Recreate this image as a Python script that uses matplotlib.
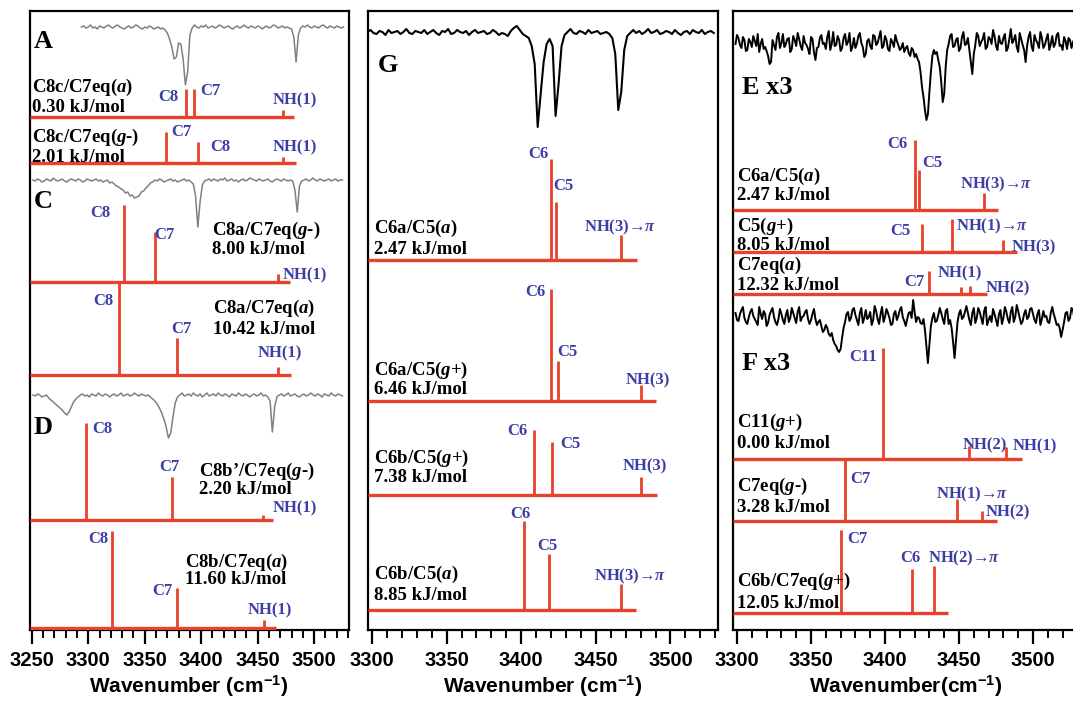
import matplotlib
matplotlib.use("Agg")
import matplotlib.pyplot as plt
from matplotlib.ticker import MultipleLocator
import numpy as np

# IR/UV double resonance traces, depletion depth on an even wavenumber grid
trace_a_span = (3294, 3526)
trace_a = [0, -1, 1, 0, -2, 1, 0, 2, -1, 0,
           1, -1, -2, 0, 1, -1, -2, 0, 1, 2,
           0, -1, 1, 0, -2, -1, 1, 2, 0, 1,
           -1, 0, 2, 1, 0, 2, 1, 3, 6, 12,
           20, 32, 30, 16, 17, 32, 58, 45, 8, 1,
           -2, 0, 1, -1, 0, -2, 1, 0, -1, 1,
           0, -2, -1, 1, 0, -1, 1, 2, 0, -1,
           1, 0, -2, 0, 1, -1, 0, 1, -1, 0,
           2, 0, -1, 1, 0, -2, -1, 1, 0, -1,
           1, 0, 1, 2, 10, 35, 8, 1, -1, 0,
           -2, 0, 1, -1, 0, 1, -1, -2, 0, 1,
           -1, 0, 1, -1, 0, 1, 0]

trace_c_span = (3251, 3525)
trace_c = [0, 1, -1, 0, 2, 1, -1, 0, 1, -2,
           0, 1, 0, -1, 1, 2, 0, -1, 0, 1,
           -1, 0, 2, 1, -1, 0, 1, 0, -1, 1,
           0, 2, 1, 0, 3, 2, 4, 6, 7, 9,
           10, 13, 12, 16, 15, 18, 17, 16, 12, 11,
           8, 6, 3, 2, 0, 1, -1, 0, 2, 1,
           0, -1, 1, 0, 2, 1, 0, -1, 1, 0,
           2, 4, 16, 47, 22, 5, 1, 0, -1, 1,
           -1, 0, 1, -1, 0, -2, 1, 0, -1, 1,
           0, 2, 0, -1, 1, 0, -2, -1, 0, 1,
           -1, 0, 1, 0, -1, 1, 2, 0, -1, 0,
           1, -1, 0, 1, 0, 1, 10, 32, 6, 1,
           0, -1, 1, 0, -2, 0, 1, -1, 0, 1,
           0, -1, 1, 0, -1, 1, 0, 0]

trace_d_span = (3251, 3525)
trace_d = [0, 1, -1, 0, 2, 1, 0, 3, 5, 7,
           9, 11, 13, 15, 18, 20, 17, 12, 7, 4,
           2, 0, -1, 1, 0, 2, -1, 0, 1, -2,
           0, 1, -1, 0, 2, 0, -1, 1, 0, -2,
           1, 0, -1, 1, 0, -2, 0, 1, -1, 0,
           1, 0, 2, 4, 6, 9, 13, 18, 24, 32,
           43, 38, 22, 8, 2, 0, -2, 1, 0, -1,
           1, -2, 0, 1, -1, 2, 0, -2, 1, 0,
           -1, 1, -2, 0, 1, -1, 0, 2, -1, 0,
           1, -2, 0, 1, -1, 0, 2, 0, -1, 1,
           0, -2, 1, 0, 2, 6, 37, 12, 2, 0,
           -1, 1, 0, -2, 1, 0, -1, 1, 2, 0,
           -1, 1, 0, -2, 0, 1, -1, 0, 2, -1,
           0, 1, -2, 0, 1, -1, 0, 1]

trace_g_span = (3297, 3529)
trace_g = [0, -2, 1, 2, -1, 0, 3, -2, 1, 0,
           -1, 2, 0, -3, 1, 2, -1, 0, 1, -2,
           2, 0, -2, 1, 3, -1, 0, -3, 2, 1,
           -2, 0, 1, -1, 3, 0, -2, 1, 0, -1,
           2, 1, -2, 0, 3, 1, 2, 4, -1, -4,
           -6, -2, 2, 4, 6, 14, 32, 95, 62, 30,
           12, 7, 14, 84, 52, 14, 3, 0, -3, 1,
           2, -1, 0, 2, -2, 1, 0, -1, 2, 1,
           0, 2, 6, 22, 78, 60, 18, 4, 1, -2,
           1, -1, 2, 0, -3, 1, 0, -2, 2, 1,
           -1, 0, 2, -2, 1, 3, 0, -1, 2, -2,
           0, 1, -2, 2, 0, -1, 1]

trace_e_span = (3299, 3529)
trace_e = [2, -7, -4, 3, 6, -5, -2, 9, 8, -3, 0, 5, -6, -1, 4, -8, 10, 2, -3, 7,
           5, 9, 14, 22, 20, -2, 3, 8, -5, -9, 6, 1, -8, 5, 2, -3, -4, 10, 7, -6,
           -2, 4, -9, -3, 4, 8, -6, 1, 3, 7, 12, -5, -3, 10, 18, 6, 5, -4, -7, 2,
           1, 7, -5, -11, 8, 2, -10, 4, 3, -6, -2, 9, 6, -4, -8, 3, 0, -9, 9, 5,
           -4, 6, 2, -6, -9, 1, 5, 15, 12, -1, -3, 4, 7, -7, -6, 3, 1, -5, -11, 6,
           4, -6, -2, 7, 9, -3, 0, 5, -7, -1, 3, 8, 6, 1, 10, 6, 4, 11, 14, 6,
           8, 15, 12, 17, 20, 30, 45, 55, 68, 78, 72, 50, 30, 14, 8, 12, 10, 18, 25, 40,
           60, 52, 25, 8, 2, -6, -8, 5, 4, -2, -4, 9, 6, -5, -10, 3, 2, -4, 8, 20,
           32, 12, 3, -9, -6, 4, 0, -3, -9, 7, 5, -5, -3, 2, -12, -6, 4, 8, -6, 1,
           2, -4, -8, 9, 6, -3, -13, 1, -2, -7, 5, 10, -9, -3, 3, 8, 20, 4, -5, -10,
           4, 9, -7, -2, 1, 6, -10, -4, 6, 3, -3, -8, 8, 2, -6, 5, 2, -7, -9, 4,
           3, 8, -5, -1, 7, -4, -2, 6, 0, -3, 2]

trace_f_span = (3299, 3529)
trace_f = [-3, 4, 5, -2, -6, -9, 2, 6, 8, 1, -4, -7, 0, 3, 6, 9, -9, -2, 3, -5,
           -2, 10, 7, -1, -5, -8, 1, 6, 9, 3, -7, -2, 4, 8, -1, -6, 6, 2, -8, -3,
           2, 7, -4, -9, 5, 1, 0, -4, -6, 3, 8, 4, -2, -7, 3, 9, 6, 4, 10, 16,
           14, 9, 12, 18, 20, 17, 24, 28, 30, 34, 36, 33, 22, 12, 6, -2, -4, 5, 2, -6,
           -8, -1, 4, 9, -3, -8, 7, 2, -6, 3, 1, -4, 9, 4, -10, -5, 3, 8, -2, -9,
           6, 1, -7, -3, 2, 9, 8, -2, -5, 4, 0, -6, -9, 1, 5, 10, 3, -3, -4, 2,
           -16, -4, 6, 1, 2, 7, 8, 3, 14, 30, 47, 28, 10, 2, -3, 6, 5, -1, -8, -3,
           3, 8, -5, -7, 8, 4, 12, 26, 42, 24, 6, -2, -6, 3, 1, -4, -10, -3, 4, 9,
           -3, -8, 7, 2, -8, -4, 2, 8, -5, -9, 9, 4, 0, 6, -7, -2, 4, 10, -2, -6,
           8, 2, -9, -4, 3, 7, -4, -9, 6, 1, -11, -5, 2, 8, 5, -2, -6, 3, 1, -7,
           -8, -2, 4, 7, -2, -6, 9, 3, -5, 1, 0, 6, 7, -3, -9, -2, 3, 9, 8, 12,
           21, 14, 6, -3, -4, 5, 2, -8, -6, 3, -2]

# calculated NH stretch sticks: name, energy (kJ/mol), frequencies, intensities, bands
c8c_c7eq_a = ["C8c/C7eq($a$)", 0.30, [3386.6, 3393.7, 3472.4], [28, 28, 7], ["C8", "C7", "NH(1)"]]
c8c_c7eq_gm = ["C8c/C7eq($g$-)", 2.01, [3368.8, 3397.1, 3472.0], [31, 21, 6], ["C7", "C8", "NH(1)"]]
c8a_c7eq_gm = ["C8a/C7eq($g$-)", 8.00, [3331.7, 3359.1, 3468.0], [77, 50, 8], ["C8", "C7", "NH(1)"]]
c8a_c7eq_a = ["C8a/C7eq($a$)", 10.42, [3327.3, 3378.6, 3468.0], [93, 37, 8], ["C8", "C7", "NH(1)"]]
c8bp_c7eq_gm = ["C8b\u2019/C7eq($g$-)", 2.20, [3298.0, 3374.0, 3454.8], [97, 43, 5], ["C8", "C7", "NH(1)"]]
c8b_c7eq_a = ["C8b/C7eq($a$)", 11.60, [3321.0, 3378.6, 3455.6], [97, 40, 8], ["C8", "C7", "NH(1)"]]

c6a_c5_a = ["C6a/C5($a$)", 2.47, [3420.0, 3423.3, 3466.8], [101, 58, 25], ["C6", "C5", "NH(3)\u2192$\\pi$"]]
c6a_c5_gp = ["C6a/C5($g$+)", 6.46, [3420.0, 3424.6, 3480.2], [112, 40, 16], ["C6", "C5", "NH(3)"]]
c6b_c5_gp = ["C6b/C5($g$+)", 7.38, [3408.5, 3420.6, 3480.2], [65, 53, 18], ["C6", "C5", "NH(3)"]]
c6b_c5_a = ["C6b/C5($a$)", 8.85, [3401.8, 3418.6, 3466.8], [89, 56, 26], ["C6", "C5", "NH(3)\u2192$\\pi$"]]

c5_gp = ["C5($g$+)", 8.05, [3425.0, 3445.3, 3479.7], [28, 33, 12], ["C5", "NH(1)\u2192$\\pi$", "NH(3)"]]
c7eq_a = ["C7eq($a$)", 12.32, [3429.7, 3451.4, 3457.4], [23, 7, 8], ["C7", "NH(1)", "NH(2)"]]
c11_gp = ["C11($g$+)", 0.00, [3398.6, 3456.8, 3481.8], [111, 13, 12], ["C11", "NH(2)", "NH(1)"]]
c7eq_gm = ["C7eq($g$-)", 3.28, [3373.0, 3448.6, 3465.5], [62, 22, 10], ["C7", "NH(1)\u2192$\\pi$", "NH(2)"]]
c6b_c7eq_gp = ["C6b/C7eq($g$+)", 12.05, [3370.3, 3418.2, 3433.1], [83, 44, 47], ["C7", "C6", "NH(2)\u2192$\\pi$"]]

RED = "#e8412c"
BLUE = "#3c3ea6"
SERIF = ["Liberation Serif", "DejaVu Serif"]

plt.rcParams["font.family"] = ["Liberation Sans", "DejaVu Sans"]
plt.rcParams["font.weight"] = "bold"
plt.rcParams["mathtext.fontset"] = "custom"
plt.rcParams["mathtext.rm"] = "Liberation Serif:bold"
plt.rcParams["mathtext.it"] = "Liberation Serif:italic:bold"
plt.rcParams["mathtext.bf"] = "Liberation Serif:bold"
plt.rcParams["mathtext.sf"] = "Liberation Sans:bold"

fig = plt.figure(figsize=(10.73, 7.04), dpi=100)
W, H = 1073.0, 704.0


def make_axes(left, right, xlim, xlabel):
    ax = fig.add_axes([left / W, 1 - 630 / H, (right - left) / W, 619 / H])
    ax.set_xlim(*xlim)
    ax.set_ylim(630, 11)  # rows counted downward from the top
    ax.set_yticks([])
    ax.xaxis.set_major_locator(MultipleLocator(50))
    ax.xaxis.set_minor_locator(MultipleLocator(10))
    ax.tick_params(axis="x", which="major", direction="out", length=10, width=1.6,
                   labelsize=14.5, pad=5)
    ax.tick_params(axis="x", which="minor", direction="out", length=5.5, width=1.4)
    for sp in ax.spines.values():
        sp.set_linewidth(1.6)
    ax.set_xlabel(xlabel, fontsize=15, fontweight="bold", labelpad=3)
    return ax


def draw_trace(ax, span, depth, row, color, lw):
    nu = np.linspace(span[0], span[1], len(depth))
    ax.plot(nu, row + np.asarray(depth, dtype=float), color=color, lw=lw, zorder=2)


def draw_sticks(ax, spec, row, end, name_xy, energy_row, label_xy, scale=1.0):
    name, energy, freq, inten, bands = spec
    x0 = ax.get_xlim()[0]
    ax.plot([x0, end], [row, row], color=RED, lw=2.4, solid_capstyle="butt", zorder=3)
    for f, h in zip(freq, inten):
        ax.plot([f, f], [row, row - h * scale], color=RED, lw=2.0,
                solid_capstyle="butt", zorder=3)
    for (x, y), b in zip(label_xy, bands):
        ax.text(x, y, b, color=BLUE, fontsize=12, fontweight="bold", family=SERIF,
                ha="center", va="center", zorder=4)
    ax.text(name_xy[0], name_xy[1], name, fontsize=13.5, fontweight="bold",
            family=SERIF, ha="left", va="center", zorder=4)
    ax.text(name_xy[0], energy_row, f"{energy:.2f} kJ/mol", fontsize=13.5,
            fontweight="bold", family=SERIF, ha="left", va="center", zorder=4)


def panel_tag(ax, x, y, s):
    ax.text(x, y, s, fontsize=19, fontweight="bold", family=SERIF,
            ha="left", va="center", zorder=4)


xlab = r"Wavenumber (cm$^{\mathsf{-1}}$)"

# left column: A, C, D
ax1 = make_axes(29.5, 348.5, (3248.0, 3530.4), xlab)
draw_trace(ax1, trace_a_span, trace_a, 27, "#808080", 1.1)
draw_trace(ax1, trace_c_span, trace_c, 180, "#808080", 1.1)
draw_trace(ax1, trace_d_span, trace_d, 395, "#808080", 1.1)
panel_tag(ax1, 3252, 42, "A")
panel_tag(ax1, 3252, 202, "C")
panel_tag(ax1, 3252, 427, "D")
draw_sticks(ax1, c8c_c7eq_a, 117, 3482.0, (3250.5, 87), 108,
            [(3370.6, 97), (3407.8, 91), (3483.0, 100)])
draw_sticks(ax1, c8c_c7eq_gm, 163, 3484.0, (3250.5, 137), 157,
            [(3382.2, 132), (3416.6, 147), (3483.0, 147)])
draw_sticks(ax1, c8a_c7eq_gm, 282, 3478.7, (3409.7, 230), 250,
            [(3310.4, 213), (3367.0, 235), (3491.9, 275)])
draw_sticks(ax1, c8a_c7eq_a, 375, 3479.6, (3410.6, 308), 329,
            [(3313.2, 301), (3382.2, 329), (3469.7, 353)])
draw_sticks(ax1, c8bp_c7eq_gm, 520, 3463.6, (3398.2, 471), 489,
            [(3312.3, 429), (3371.5, 467), (3483.0, 508)])
draw_sticks(ax1, c8b_c7eq_a, 628, 3466.2, (3385.7, 562), 580,
            [(3308.7, 539), (3365.4, 591), (3460.8, 610)])

# middle column: G
ax2 = make_axes(368, 717.5, (3297.3, 3531.5), xlab)
draw_trace(ax2, trace_g_span, trace_g, 32, "black", 1.5)
panel_tag(ax2, 3304, 65, "G")
draw_sticks(ax2, c6a_c5_a, 260, 3477.6, (3301, 228), 249,
            [(3411.2, 154), (3428.0, 186), (3466.2, 227)])
draw_sticks(ax2, c6a_c5_gp, 401, 3490.3, (3301, 370), 390,
            [(3409.2, 292), (3430.7, 352), (3485.0, 380)])
draw_sticks(ax2, c6b_c5_gp, 495, 3491.0, (3301, 458), 478,
            [(3397.2, 431), (3432.7, 444), (3483.0, 466)])
draw_sticks(ax2, c6b_c5_a, 610, 3476.9, (3301, 574), 595,
            [(3399.2, 514), (3417.3, 546), (3472.9, 576)])

# right column: E x3, F x3
ax3 = make_axes(733, 1078, (3297.3, 3530.4), r"Wavenumber(cm$^{\mathsf{-1}}$)")
draw_trace(ax3, trace_e_span, trace_e, 42, "black", 1.4)
draw_trace(ax3, trace_f_span, trace_f, 316, "black", 1.4)
panel_tag(ax3, 3303.4, 88, "E x3")
panel_tag(ax3, 3303.4, 363, "F x3")
draw_sticks(ax3, c6a_c5_a, 210, 3476.4, (3300, 176), 196,
            [(3408.1, 144), (3431.8, 163), (3475.3, 184)], scale=0.69)
draw_sticks(ax3, c5_gp, 252, 3489.2, (3300, 226), 246,
            [(3410.1, 231), (3472.6, 226), (3500.7, 247)])
draw_sticks(ax3, c7eq_a, 294, 3468.9, (3300, 265), 286,
            [(3419.6, 282), (3450.7, 273), (3483.1, 288)])
draw_sticks(ax3, c11_gp, 459, 3492.6, (3300, 422), 444,
            [(3385.1, 357), (3467.6, 445), (3501.4, 446)])
draw_sticks(ax3, c7eq_gm, 521, 3475.7, (3300, 486), 507,
            [(3383.1, 479), (3459.1, 494), (3483.1, 512)])
draw_sticks(ax3, c6b_c7eq_gp, 613, 3442.6, (3300, 581), 603,
            [(3381.1, 539), (3416.9, 558), (3453.4, 558)])

fig.savefig("out.png", dpi=100)
